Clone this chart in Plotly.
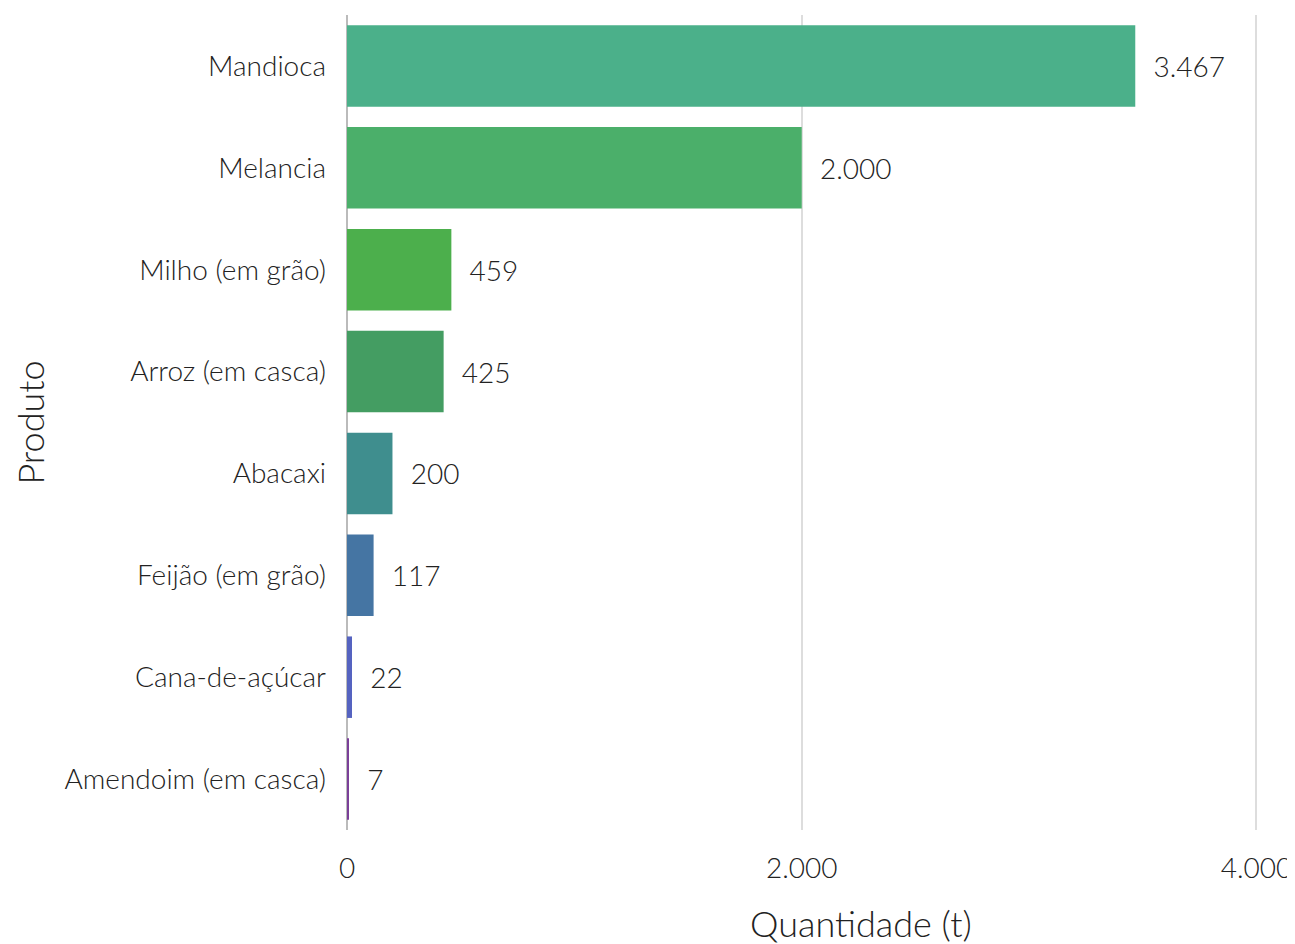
import plotly.graph_objects as go

# produtos e quantidades (t)
produtos = ["Mandioca", "Melancia", "Milho (em grão)", "Arroz (em casca)",
            "Abacaxi", "Feijão (em grão)", "Cana-de-açúcar", "Amendoim (em casca)"]
quantidade = [3467, 2000, 459, 425, 200, 117, 22, 7]
cores = ["#4BB08A", "#4BAF6A", "#4CAF4C", "#449D62",
         "#3F8E8E", "#4575A3", "#5563C0", "#7A3F98"]
ticks = [0, 2000, 4000]

fonte = dict(family="Lato", color="#222222", weight=300)
esp = "\u00a0" * 2

fig = go.Figure(go.Bar(
    x=quantidade,
    y=produtos,
    orientation="h",
    marker=dict(color=cores, line=dict(width=0)),
    texttemplate=esp + "%{x:,}",
    textposition="outside",
    textfont=dict(size=28, **fonte),
    cliponaxis=False,
    width=0.8,
))

# a página tem margem de 8px no body
fig.update_layout(
    width=1287, height=936,
    margin=dict(l=339, r=34, t=7, b=114),
    plot_bgcolor="white",
    paper_bgcolor="white",
    separators=",.",
    showlegend=False,
    font=dict(size=28, **fonte),
    annotations=[dict(
        text="Quantidade (t)", xref="paper", yref="paper",
        x=0.562, y=-0.114, xanchor="center", yanchor="middle",
        showarrow=False, font=dict(size=36, **fonte),
    )],
)
fig.update_xaxes(
    range=[0, 4020],
    tickvals=ticks,
    tickformat=",",
    automargin=False,
    showgrid=True, gridcolor="#DDDDDD", gridwidth=2,
    zeroline=True, zerolinecolor="#BBBBBB", zerolinewidth=2,
    showline=False,
    ticks="", ticklen=0, ticklabelstandoff=19,
    tickfont=dict(size=28, **fonte),
)
fig.update_yaxes(
    autorange="reversed",
    automargin=False,
    showgrid=False, showline=False,
    ticks="", ticklabelstandoff=20,
    tickfont=dict(size=28, **fonte),
    title=dict(text="Produto", font=dict(size=36, **fonte), standoff=31),
)

fig.write_html("out.html")
